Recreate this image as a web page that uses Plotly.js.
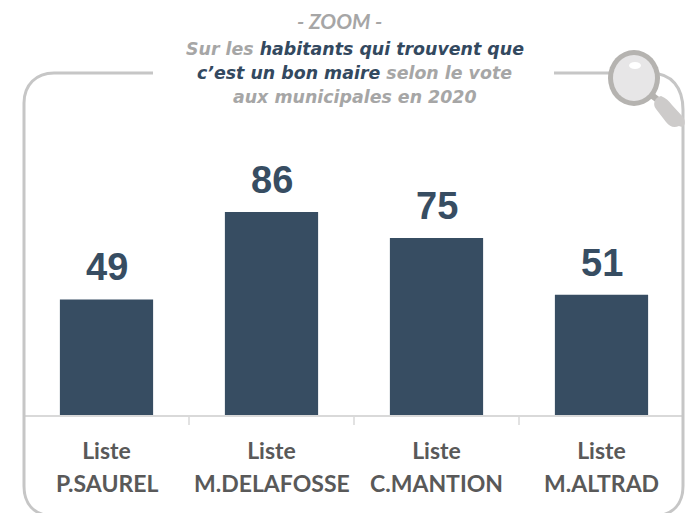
<!DOCTYPE html>
<html><head><meta charset="utf-8">
<script src="https://cdn.plot.ly/plotly-3.0.1.min.js"></script>
<style>html,body{margin:0;padding:0;background:#fff}</style></head>
<body><div id="chart" style="width:692px;height:513px"></div>
<script>
const firstLine = ["<b>Liste</b>","<b>Liste</b>","<b>Liste</b>","<b>Liste</b>"];
const names = ["P.SAUREL","M.DELAFOSSE","C.MANTION","M.ALTRAD"];
const values = [49,86,75,51];
const W=692,H=513,L=24,R=8,T=100,B=98;
const pw=W-L-R, ph=H-T-B;
const px=x=>(x-L)/pw, py=y=>(H-B-y)/ph;
const P=(s)=>s.replace(/(-?[\d.]+),(-?[\d.]+)/g,(m,a,b)=>px(+a)+','+py(+b));
const GREY='#c6c6c6';
const circle=(cx,cy,rx,ry,fill)=>({type:'circle',xref:'paper',yref:'paper',x0:px(cx-rx),x1:px(cx+rx),y0:py(cy+ry),y1:py(cy-ry),fillcolor:fill,line:{width:0}});
const shapes=[
 {type:'path',xref:'paper',yref:'paper',path:P('M153,73 L54,73 C36,73 24,85 24,103 L24,486 C24,504 34,514 50,516'),line:{color:GREY,width:3}},
 {type:'path',xref:'paper',yref:'paper',path:P('M554,73 L650,73 C672,73 683,88 683,110 L683,486 C683,504 673,514 657,516'),line:{color:GREY,width:3}},
 {type:'path',xref:'paper',yref:'paper',path:P('M654,93 L663,100 L661,106 L650,98 Z'),fillcolor:'#b5b3b0',line:{width:0}},
 {type:'path',xref:'paper',yref:'paper',path:P('M661,96 C666,98 669,101 672,105 L683,117 C687,123 684,129 679,126 C674,128 670,127 666,122 L656,109 C652,104 655,97 661,96 Z'),fillcolor:'#cdcbca',line:{width:0}},
 circle(634,78,26,28,'#b5b3b0'),
 circle(634,78,21,23,'#e7e6e7'),
 circle(635,65.5,6,3.5,'#ffffff')
];
const GT='#a6a6a6', DK='#33495f';
const titleLine=(y,text)=>({xref:'paper',yref:'paper',x:px(354.5),y:py(y),yanchor:'middle',align:'center',showarrow:false,text:'<b><i>'+text+'</i></b>',font:{family:'DejaVu Sans, sans-serif',size:17.4,color:GT}});
const annotations=[
 {xref:'paper',yref:'paper',x:px(339),y:py(20),yanchor:'middle',text:'<b><i>- ZOOM -</i></b>',showarrow:false,font:{family:'Lato, sans-serif',size:21,color:GT}},
 titleLine(49,`Sur les <span style="color:${DK}">habitants qui trouvent que</span>`),
 titleLine(73,`<span style="color:${DK}">c’est un bon maire</span> selon le vote`),
 titleLine(97,'aux municipales en 2020')
];
names.forEach((n,i)=>{
 annotations.push({xref:'x',yref:'paper',x:i,y:py(483),yanchor:'middle',text:'<b>'+n+'</b>',showarrow:false,font:{family:'Lato, sans-serif',size:23,color:'#595959'}});
 annotations.push({xref:'x',yref:'y',x:i,y:values[i],yanchor:'bottom',yshift:9,text:'<b>'+values[i]+'</b>',showarrow:false,font:{family:'Liberation Sans, sans-serif',size:38,color:'#374d62'}});
});
Plotly.newPlot('chart',[{type:'bar',x:[0,1,2,3],y:values,marker:{color:'#374d62'},width:0.565,hoverinfo:'skip'}],{
 width:W,height:H,margin:{l:L,r:R,t:T,b:B,pad:0},paper_bgcolor:'#fff',plot_bgcolor:'#fff',showlegend:false,
 xaxis:{type:'linear',range:[-0.5,3.5],tickmode:'array',tickvals:[0,1,2,3],ticktext:firstLine,ticks:'',showgrid:false,zeroline:false,
   showline:true,linecolor:'#d9d9d9',linewidth:2,ticklabelstandoff:14,tickfont:{family:'Lato, sans-serif',size:23,color:'#595959'},tickangle:0},
 yaxis:{range:[0,133.5],visible:false},
 shapes:shapes.concat([0.5,1.5,2.5].map(v=>({type:'line',xref:'x',yref:'paper',x0:v,x1:v,y0:0,y1:py(425),line:{color:'#d9d9d9',width:1.5}}))),
 annotations
},{displayModeBar:false,staticPlot:true});
</script></body></html>
